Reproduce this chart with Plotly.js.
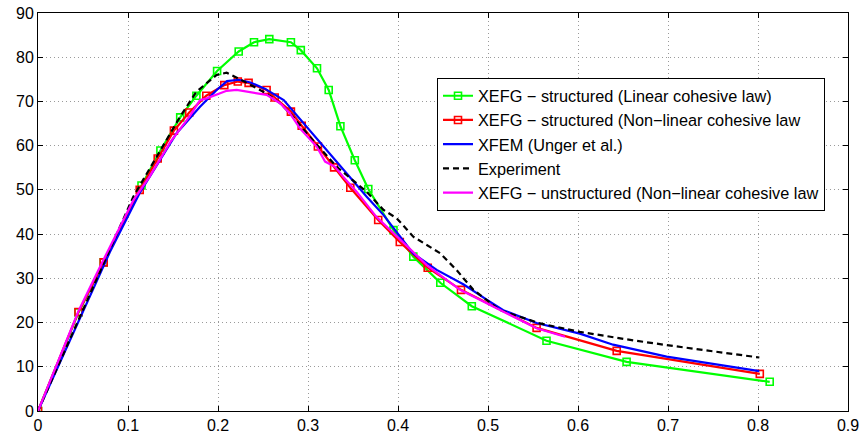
<!DOCTYPE html>
<html>
<head>
<meta charset="utf-8">
<script src="https://cdn.plot.ly/plotly-3.0.1.min.js"></script>
<style>html,body{margin:0;padding:0;background:#fff;}#chart{width:868px;height:437px;}</style>
</head>
<body>
<div id="chart"></div>
<script>
// Series names
const seriesNames = [
  "XEFG \u2212 structured (Linear cohesive law)",
  "XEFG \u2212 structured (Non\u2212linear cohesive law",
  "XFEM (Unger et al.)",
  "Experiment",
  "XEFG \u2212 unstructured (Non\u2212linear cohesive law"
];

// XEFG structured, linear cohesive law
const greenX = [0, 0.045, 0.073, 0.115, 0.136, 0.158, 0.176, 0.199, 0.223, 0.240, 0.257, 0.281, 0.292, 0.310, 0.323, 0.336, 0.352, 0.367, 0.395, 0.417, 0.447, 0.482, 0.565, 0.654, 0.813];
const greenY = [0, 22.3, 33.6, 51.0, 58.9, 66.4, 71.3, 76.9, 81.3, 83.4, 84.1, 83.4, 81.6, 77.5, 72.6, 64.4, 56.7, 50.2, 40.9, 34.9, 29.0, 23.7, 15.9, 11.1, 6.6];

// XEFG structured, non-linear cohesive law
const redX = [0, 0.045, 0.073, 0.113, 0.133, 0.151, 0.168, 0.187, 0.207, 0.222, 0.234, 0.254, 0.263, 0.281, 0.293, 0.311, 0.329, 0.347, 0.378, 0.402, 0.433, 0.470, 0.554, 0.643, 0.802];
const redY = [0, 22.4, 33.6, 50.0, 57.1, 63.4, 67.5, 71.3, 73.7, 74.5, 74.2, 72.6, 70.9, 67.7, 64.5, 59.8, 55.1, 50.5, 43.2, 38.2, 32.4, 27.4, 18.8, 13.6, 8.4];

// XFEM (Unger et al.)
const blueX = [0, 0.080, 0.113, 0.154, 0.180, 0.1985, 0.210, 0.223, 0.236, 0.252, 0.273, 0.295, 0.317, 0.339, 0.365, 0.384, 0.417, 0.443, 0.473, 0.4985, 0.517, 0.554, 0.602, 0.639, 0.6985, 0.8015];
const blueY = [0, 36.0, 49.3, 62.8, 68.8, 72.6, 74.6, 74.9, 74.3, 72.9, 70.3, 65.1, 59.8, 54.5, 48.5, 44.3, 35.6, 31.9, 28.6, 25.2, 22.8, 19.9, 17.5, 15.0, 12.3, 9.0];

// Experiment
const expX = [0, 0.106, 0.158, 0.176, 0.1985, 0.2096, 0.2226, 0.239, 0.254, 0.269, 0.280, 0.302, 0.332, 0.365, 0.3837, 0.3985, 0.417, 0.4467, 0.465, 0.4837, 0.4985, 0.5133, 0.558, 0.602, 0.654, 0.6985, 0.8015];
const expY = [0, 48.5, 66.6, 72.2, 76.0, 76.5, 75.2, 73.5, 71.8, 69.6, 67.3, 62.0, 55.2, 49.6, 45.5, 43.6, 39.4, 35.7, 31.9, 27.4, 25.1, 22.8, 19.8, 17.9, 16.2, 14.9, 12.1];

// XEFG unstructured, non-linear cohesive law
const magX = [0, 0.045, 0.073, 0.106, 0.124, 0.147, 0.169, 0.180, 0.1874, 0.2096, 0.2207, 0.239, 0.254, 0.269, 0.280, 0.291, 0.3096, 0.319, 0.330, 0.339, 0.354, 0.376, 0.395, 0.417, 0.432, 0.469, 0.5133, 0.554, 0.5856];
const magY = [0, 22.6, 34.3, 47.7, 53.0, 60.8, 66.8, 70.3, 70.7, 72.4, 72.6, 72.0, 71.5, 69.6, 67.3, 63.9, 59.8, 56.4, 55.2, 53.0, 49.6, 43.9, 40.2, 35.7, 33.0, 27.4, 22.8, 18.7, 16.8];

const xTicks = [0, 0.1, 0.2, 0.3, 0.4, 0.5, 0.6, 0.7, 0.8, 0.9];
const xTickText = ["0", "0.1", "0.2", "0.3", "0.4", "0.5", "0.6", "0.7", "0.8", "0.9"];
const yTicks = [0, 10, 20, 30, 40, 50, 60, 70, 80, 90];

const traces = [
  {x: greenX, y: greenY, name: seriesNames[0], mode: "lines+markers",
   line: {color: "#00ff00", width: 2.2},
   marker: {symbol: "square-open", size: 7, color: "#00ff00", line: {width: 1.6, color: "#00ff00"}}},
  {x: redX, y: redY, name: seriesNames[1], mode: "lines+markers",
   line: {color: "#ff0000", width: 2.2},
   marker: {symbol: "square-open", size: 7, color: "#ff0000", line: {width: 1.6, color: "#ff0000"}}},
  {x: blueX, y: blueY, name: seriesNames[2], mode: "lines",
   line: {color: "#0000ff", width: 2.2}},
  {x: expX, y: expY, name: seriesNames[3], mode: "lines",
   line: {color: "#000000", width: 2.2, dash: "6px,4px"}},
  {x: magX, y: magY, name: seriesNames[4], mode: "lines",
   line: {color: "#ff00ff", width: 2.2}}
];

const axisCommon = {
  showline: true, linecolor: "#000", linewidth: 1, mirror: "ticks",
  ticks: "inside", ticklen: 5, tickcolor: "#000", tickwidth: 1,
  showgrid: true, gridcolor: "#9a9a9a", griddash: "1px,3px", gridwidth: 1,
  zeroline: false,
  tickfont: {family: "Liberation Sans, Arial, sans-serif", size: 16, color: "#000"}
};

const layout = {
  width: 868, height: 437,
  margin: {l: 38, r: 20, t: 13, b: 26},
  paper_bgcolor: "#fff", plot_bgcolor: "#fff",
  showlegend: true,
  xaxis: Object.assign({}, axisCommon, {range: [0, 0.9], tickvals: xTicks, ticktext: xTickText}),
  yaxis: Object.assign({}, axisCommon, {range: [0, 90], tickvals: yTicks}),
  legend: {
    x: 0.4926, y: 0.8375, xanchor: "left", yanchor: "top",
    bgcolor: "#fff", bordercolor: "#000", borderwidth: 1,
    font: {family: "Liberation Sans, Arial, sans-serif", size: 16.3, color: "#000"},
    itemwidth: 30, tracegroupgap: 0
  }
};

Plotly.newPlot("chart", traces, layout, {displayModeBar: false, staticPlot: true});
</script>
</body>
</html>
